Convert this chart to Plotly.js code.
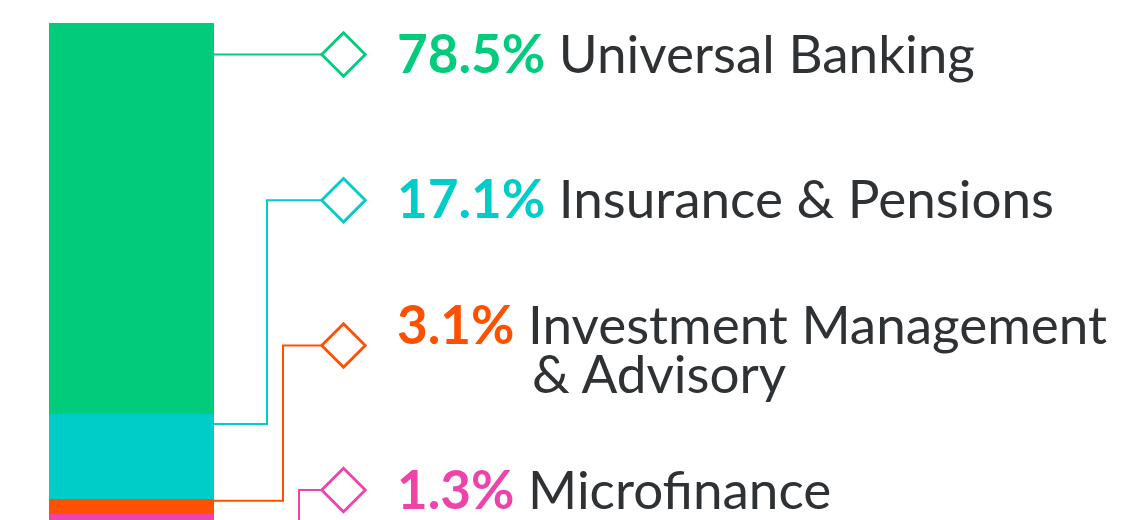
<!DOCTYPE html>
<html>
<head>
<meta charset="utf-8">
<script src="https://cdn.plot.ly/plotly-3.0.1.min.js"></script>
<style>
html,body{margin:0;padding:0;background:#fff;overflow:hidden;}
#chart{width:1123px;height:520px;}
</style>
</head>
<body>
<div id="chart"></div>
<script>
// ---- data ----
const segments = ["Microfinance", "Investment Management & Advisory", "Insurance & Pensions", "Universal Banking"];
const shares = [1.3, 3.1, 17.1, 78.5];
const pctLabels = ["1.3%", "3.1%", "17.1%", "78.5%"];
const nameLines = [["Microfinance"], ["Investment Management", "& Advisory"], ["Insurance & Pensions"], ["Universal Banking"]];
const colors = ["#ee44aa", "#ff5000", "#00ccc8", "#00cc7c"];

// ---- layout constants (pixels) ----
const W = 1123, H = 520;
const barX = 131.25, barW = 164.5, barRight = 213.5;
const pxPerPct = 4.977, zeroPx = 520.7;
const yTop = zeroPx / pxPerPct, yBot = (zeroPx - H) / pxPerPct;
// leader geometry per segment: [bar-side y, elbow x, label y]
const leaders = [
  [540, 299, 490],
  [500.7, 283, 345.5],
  [424, 267, 200.3],
  [54.5, null, 54.5]
];
const diamondCx = 343.5, diamondHalf = 21.8;
const baselines = [509, 344, 218.3, 72.7];
const textX = 394.5;
const fontFam = "Lato, 'Open Sans', sans-serif";
const fs = 53;

const traces = segments.map((s, i) => ({
  type: "bar",
  name: s,
  x: [barX],
  y: [shares[i]],
  width: [barW],
  marker: {color: colors[i], line: {width: 0}},
  hoverinfo: "name+y",
  showlegend: false
}));

const shapes = [];
const annotations = [];
segments.forEach((s, i) => {
  const [y0, ex, ly] = leaders[i];
  const left = diamondCx - diamondHalf;
  let path;
  if (ex === null) {
    path = `M ${barRight} ${y0} L ${left} ${ly}`;
  } else {
    path = `M ${i === 0 ? ex : barRight} ${y0} L ${ex} ${y0} L ${ex} ${ly} L ${left} ${ly}`;
  }
  shapes.push({type: "path", xref: "x", yref: "y2", path: path,
    line: {color: colors[i], width: 2}});
  const c = diamondCx, d = diamondHalf;
  shapes.push({type: "path", xref: "x", yref: "y2",
    path: `M ${c - d} ${ly} L ${c} ${ly - d} L ${c + d} ${ly} L ${c} ${ly + d} Z`,
    fillcolor: "rgba(255,255,255,1)", line: {color: colors[i], width: 2.8}});
  annotations.push({
    xref: "x", yref: "y2", x: textX, y: baselines[i] - 20.5,
    xanchor: "left", yanchor: "middle", showarrow: false,
    text: `<b><span style="color:${colors[i]}">${pctLabels[i]}</span></b> ${nameLines[i][0]}`,
    font: {family: fontFam, size: fs, color: "#2f3234"}
  });
  if (nameLines[i].length > 1) {
    annotations.push({
      xref: "x", yref: "y2", x: 530, y: baselines[i] + 49.3 - 20.5,
      xanchor: "left", yanchor: "middle", showarrow: false,
      text: nameLines[i][1],
      font: {family: fontFam, size: fs, color: "#2f3234"}
    });
  }
});

const layout = {
  width: W, height: H,
  margin: {l: 0, r: 0, t: 0, b: 0},
  paper_bgcolor: "#ffffff", plot_bgcolor: "#ffffff",
  barmode: "stack",
  showlegend: false,
  xaxis: {range: [0, W], visible: false, fixedrange: true},
  yaxis: {range: [yBot, yTop], visible: false, fixedrange: true},
  yaxis2: {range: [H, 0], overlaying: "y", visible: false, fixedrange: true},
  shapes: shapes,
  annotations: annotations
};

Plotly.newPlot("chart", traces, layout, {displayModeBar: false, staticPlot: true});
</script>
</body>
</html>
